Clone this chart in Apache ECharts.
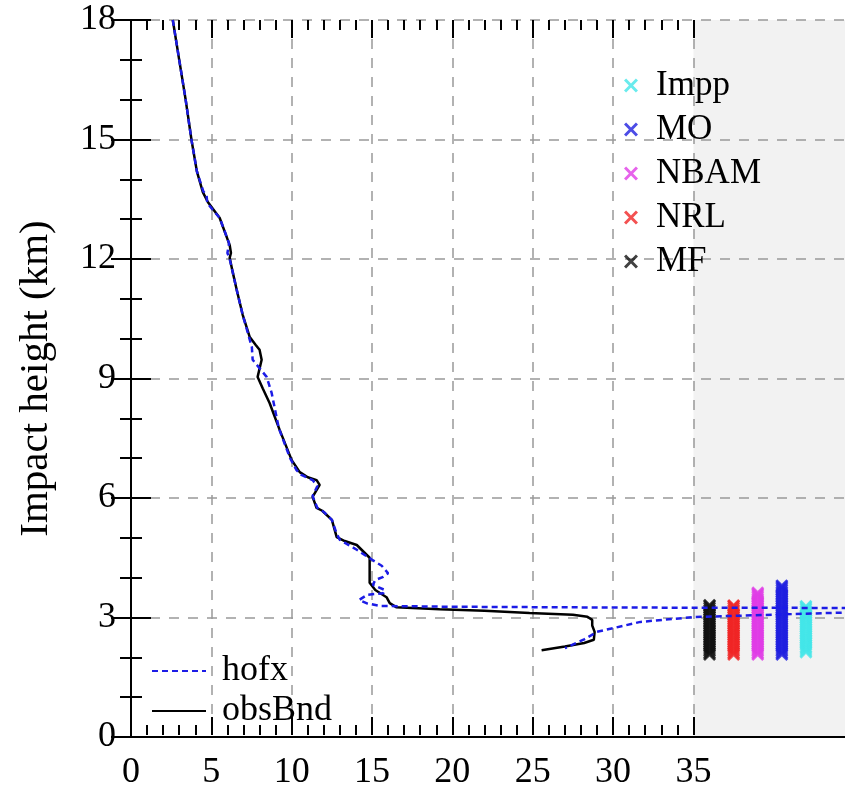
<!DOCTYPE html>
<html>
<head>
<meta charset="utf-8">
<script src="https://cdn.jsdelivr.net/npm/echarts@6/dist/echarts.min.js"></script>
<style>
html,body{margin:0;padding:0;background:#fff;}
#chart{width:845px;height:791px;}
</style>
</head>
<body>
<div id="chart"></div>
<script>
// ---- data (bending angle value, impact height km) ----
const xTickLabels = [0, 5, 10, 15, 20, 25, 30, 35];
const yTickLabels = [0, 3, 6, 9, 12, 15, 18];
const shadedRange = [35, 44.43];

const obsBnd = [
  [2.6,18.0],[3.0,17.0],[3.4,16.0],[3.76,15.0],[4.1,14.2],[4.47,13.68],[4.78,13.43],
  [5.52,13.03],[6.14,12.35],[6.22,12.15],[6.14,12.03],[6.33,11.67],[6.58,11.22],
  [6.95,10.6],[7.39,10.04],[7.75,9.85],[8.0,9.72],[8.13,9.47],[7.88,9.04],[8.2,8.75],
  [8.63,8.38],[9.25,7.71],[10.0,6.95],[10.5,6.65],[11.0,6.52],[11.55,6.45],[11.74,6.33],
  [11.3,6.03],[11.55,5.75],[11.9,5.68],[12.5,5.45],[12.8,5.02],[13.3,4.92],[14.05,4.82],
  [14.85,4.5],[14.85,4.2],[14.85,3.87],[15.2,3.69],[15.9,3.51],[16.1,3.36],[16.5,3.26],
  [19.2,3.21],[22.0,3.17],[24.8,3.11],[27.5,3.07],[28.4,3.02],[28.7,2.94],[28.7,2.8],
  [28.85,2.64],[28.8,2.44],[28.2,2.36],[27.0,2.27],[25.55,2.18]
];

const hofx = [
  [2.6,18.0],[3.0,17.0],[3.4,16.0],[3.76,15.0],[4.1,14.2],[4.5,13.7],[4.7,13.6],[4.75,13.4],
  [5.52,13.03],[6.1,12.4],[6.0,12.15],[6.14,12.0],[6.33,11.67],[6.58,11.22],[6.95,10.6],
  [7.3,10.1],[7.52,9.79],[7.57,9.47],[8.44,9.04],[8.75,8.64],[9.2,7.75],[9.9,7.0],
  [10.3,6.7],[10.6,6.58],[11.3,6.45],[11.6,6.3],[11.3,6.05],[11.6,5.75],[12.0,5.65],
  [12.5,5.45],[12.8,5.1],[13.0,4.95],[14.05,4.7],[15.0,4.45],[15.6,4.3],[16.0,4.11],
  [15.7,4.02],[15.2,3.94],[15.05,3.82],[15.8,3.69],[15.7,3.61],[14.7,3.57],[14.2,3.44],
  [14.65,3.36],[15.5,3.29],[20.0,3.27],[30.0,3.25],[44.0,3.24],[52.0,3.2],[44.0,3.12],
  [35.0,3.01],[31.7,2.89],[29.0,2.64],[28.2,2.45],[27.0,2.23]
];

// impact heights of the points of each centre, drawn in their own column
const centreNames = ['Impp', 'MO', 'NBAM', 'NRL', 'MF'];
const centreColumn = [42, 40.5, 39, 37.5, 36];
const centreColors = ['#44e6e8', '#1f1fe0', '#e03ce6', '#f02626', '#111111'];
const imppHeights = [2.13,2.17,2.22,2.26,2.31,2.35,2.4,2.44,2.49,2.53,2.58,2.62,2.67,2.71,2.76,2.8,2.85,2.89,2.94,2.98,3.03,3.07,3.12,3.16,3.21,3.25,3.28];
const moHeights = [2.07,2.11,2.16,2.2,2.25,2.29,2.34,2.38,2.43,2.47,2.52,2.56,2.61,2.65,2.7,2.74,2.79,2.83,2.88,2.92,2.97,3.01,3.06,3.1,3.15,3.19,3.24,3.28,3.33,3.37,3.42,3.46,3.51,3.55,3.6,3.64,3.69,3.73,3.77,3.8];
const nbamHeights = [2.07,2.11,2.16,2.2,2.25,2.29,2.34,2.38,2.43,2.47,2.52,2.56,2.61,2.65,2.7,2.74,2.79,2.83,2.88,2.92,2.97,3.01,3.06,3.1,3.15,3.19,3.24,3.28,3.33,3.37,3.42,3.46,3.51,3.55,3.59,3.62];
const nrlHeights = [2.07,2.11,2.16,2.2,2.25,2.29,2.34,2.38,2.43,2.47,2.52,2.56,2.61,2.65,2.7,2.74,2.79,2.83,2.88,2.92,2.97,3.01,3.06,3.1,3.15,3.19,3.24,3.28,3.3];
const mfHeights = [2.07,2.11,2.16,2.2,2.25,2.29,2.34,2.38,2.43,2.47,2.52,2.56,2.61,2.65,2.7,2.74,2.79,2.83,2.88,2.92,2.97,3.01,3.06,3.1,3.15,3.19,3.24,3.28,3.31];
const centreHeights = [imppHeights, moHeights, nbamHeights, nrlHeights, mfHeights];

// ---- chart ----
const FONT = 'Liberation Serif';
const TICK_FS = 36;
const X_MARK = 'path://M0,1.5L1.5,0L5,3.5L8.5,0L10,1.5L6.5,5L10,8.5L8.5,10L5,6.5L1.5,10L0,8.5L3.5,5Z';

const chart = echarts.init(document.getElementById('chart'), null, {renderer: 'canvas'});

const axisBlack = {color: '#000', width: 2};
const dashGrid = {show: true, lineStyle: {color: '#999', width: 1.5, type: [10, 9]}};

const series = [];
series.push({
  type: 'custom', name: 'shade', xAxisIndex: 0, yAxisIndex: 0, z: -1, silent: true,
  data: [shadedRange],
  renderItem: function (params, api) {
    const p0 = api.coord([api.value(0), 18]);
    const p1 = api.coord([api.value(1), 0]);
    return {type: 'rect', shape: {x: p0[0], y: p0[1], width: p1[0] - p0[0], height: p1[1] - p0[1]},
      style: {fill: '#f2f2f2'}};
  }
});
centreNames.forEach(function (nm, i) {
  series.push({
    type: 'scatter', name: nm, xAxisIndex: 0, yAxisIndex: 0,
    symbol: X_MARK, symbolSize: 13, z: 3,
    itemStyle: {color: centreColors[i]},
    data: centreHeights[i].map(function (h) { return [centreColumn[i], h]; })
  });
});
series.push({
  type: 'line', name: 'obsBnd', xAxisIndex: 0, yAxisIndex: 0, data: obsBnd,
  symbol: 'none', clip: true, z: 4,
  lineStyle: {color: '#000', width: 2.5}, itemStyle: {color: '#000'}
});
series.push({
  type: 'line', name: 'hofx', xAxisIndex: 0, yAxisIndex: 0, data: hofx,
  symbol: 'none', clip: true, z: 5,
  lineStyle: {color: '#1c1ce6', width: 2.5, type: [6, 4]}, itemStyle: {color: '#1c1ce6'}
});

const option = {
  animation: false,
  backgroundColor: '#fff',
  grid: [
    {left: 131, top: 20, width: 714, height: 717},
    {left: 131, top: 20, width: 562.4, height: 717}
  ],
  xAxis: [
    {gridIndex: 0, type: 'value', min: 0, max: shadedRange[1], position: 'bottom',
      axisLine: {show: true, lineStyle: axisBlack}, axisTick: {show: false},
      axisLabel: {show: false}, splitLine: {show: false}},
    {gridIndex: 0, type: 'value', min: 0, max: shadedRange[1], position: 'top',
      axisLine: {show: true, lineStyle: axisBlack}, axisTick: {show: false},
      axisLabel: {show: false}, splitLine: {show: false}},
    {gridIndex: 1, type: 'value', min: xTickLabels[0], max: xTickLabels[xTickLabels.length - 1], interval: 5,
      position: 'bottom', axisLine: {show: false},
      axisTick: {show: true, inside: true, length: 18, lineStyle: axisBlack},
      minorTick: {show: true, splitNumber: 5, length: 10, lineStyle: axisBlack},
      axisLabel: {show: true, color: '#000', fontFamily: FONT, fontSize: TICK_FS, margin: 20},
      splitLine: dashGrid},
    {gridIndex: 1, type: 'value', min: xTickLabels[0], max: xTickLabels[xTickLabels.length - 1], interval: 5,
      position: 'top', axisLine: {show: false},
      axisTick: {show: true, inside: true, length: 18, lineStyle: axisBlack},
      minorTick: {show: true, splitNumber: 5, length: 10, lineStyle: axisBlack},
      axisLabel: {show: false}, splitLine: {show: false}}
  ],
  yAxis: [
    {gridIndex: 0, type: 'value', min: yTickLabels[0], max: yTickLabels[yTickLabels.length - 1], interval: 3,
      position: 'left', axisLine: {show: true, lineStyle: axisBlack},
      axisTick: {show: true, inside: true, length: 20, lineStyle: axisBlack},
      minorTick: {show: true, splitNumber: 3, length: 11, lineStyle: axisBlack},
      axisLabel: {show: true, color: '#000', fontFamily: FONT, fontSize: TICK_FS, margin: 15},
      splitLine: dashGrid,
      name: 'Impact height (km)', nameLocation: 'middle', nameRotate: 90, nameGap: 74,
      nameTextStyle: {color: '#000', fontFamily: FONT, fontSize: 41}},
    {gridIndex: 0, type: 'value', min: yTickLabels[0], max: yTickLabels[yTickLabels.length - 1], interval: 3,
      position: 'right', axisLine: {show: true, lineStyle: axisBlack},
      axisTick: {show: true, inside: true, length: 20, lineStyle: axisBlack},
      minorTick: {show: true, splitNumber: 3, length: 11, lineStyle: axisBlack},
      axisLabel: {show: false}, splitLine: {show: false}},
    {gridIndex: 1, type: 'value', min: 0, max: 18, show: false}
  ],
  legend: [
    {data: ['hofx', 'obsBnd'], orient: 'vertical', left: 146, top: 648,
      itemWidth: 54, itemHeight: 14, itemGap: 4, selectedMode: false,
      itemStyle: {opacity: 0},
      textStyle: {color: '#000', fontFamily: FONT, fontSize: 36, padding: [0, 0, 0, 11]}},
    {data: centreNames, orient: 'vertical', left: 619, top: 63,
      itemWidth: 14, itemHeight: 14, itemGap: 9, selectedMode: false,
      textStyle: {color: '#000', fontFamily: FONT, fontSize: 35, padding: [0, 0, 0, 13]}}
  ],
  series: series
};
chart.setOption(option);
</script>
</body>
</html>
